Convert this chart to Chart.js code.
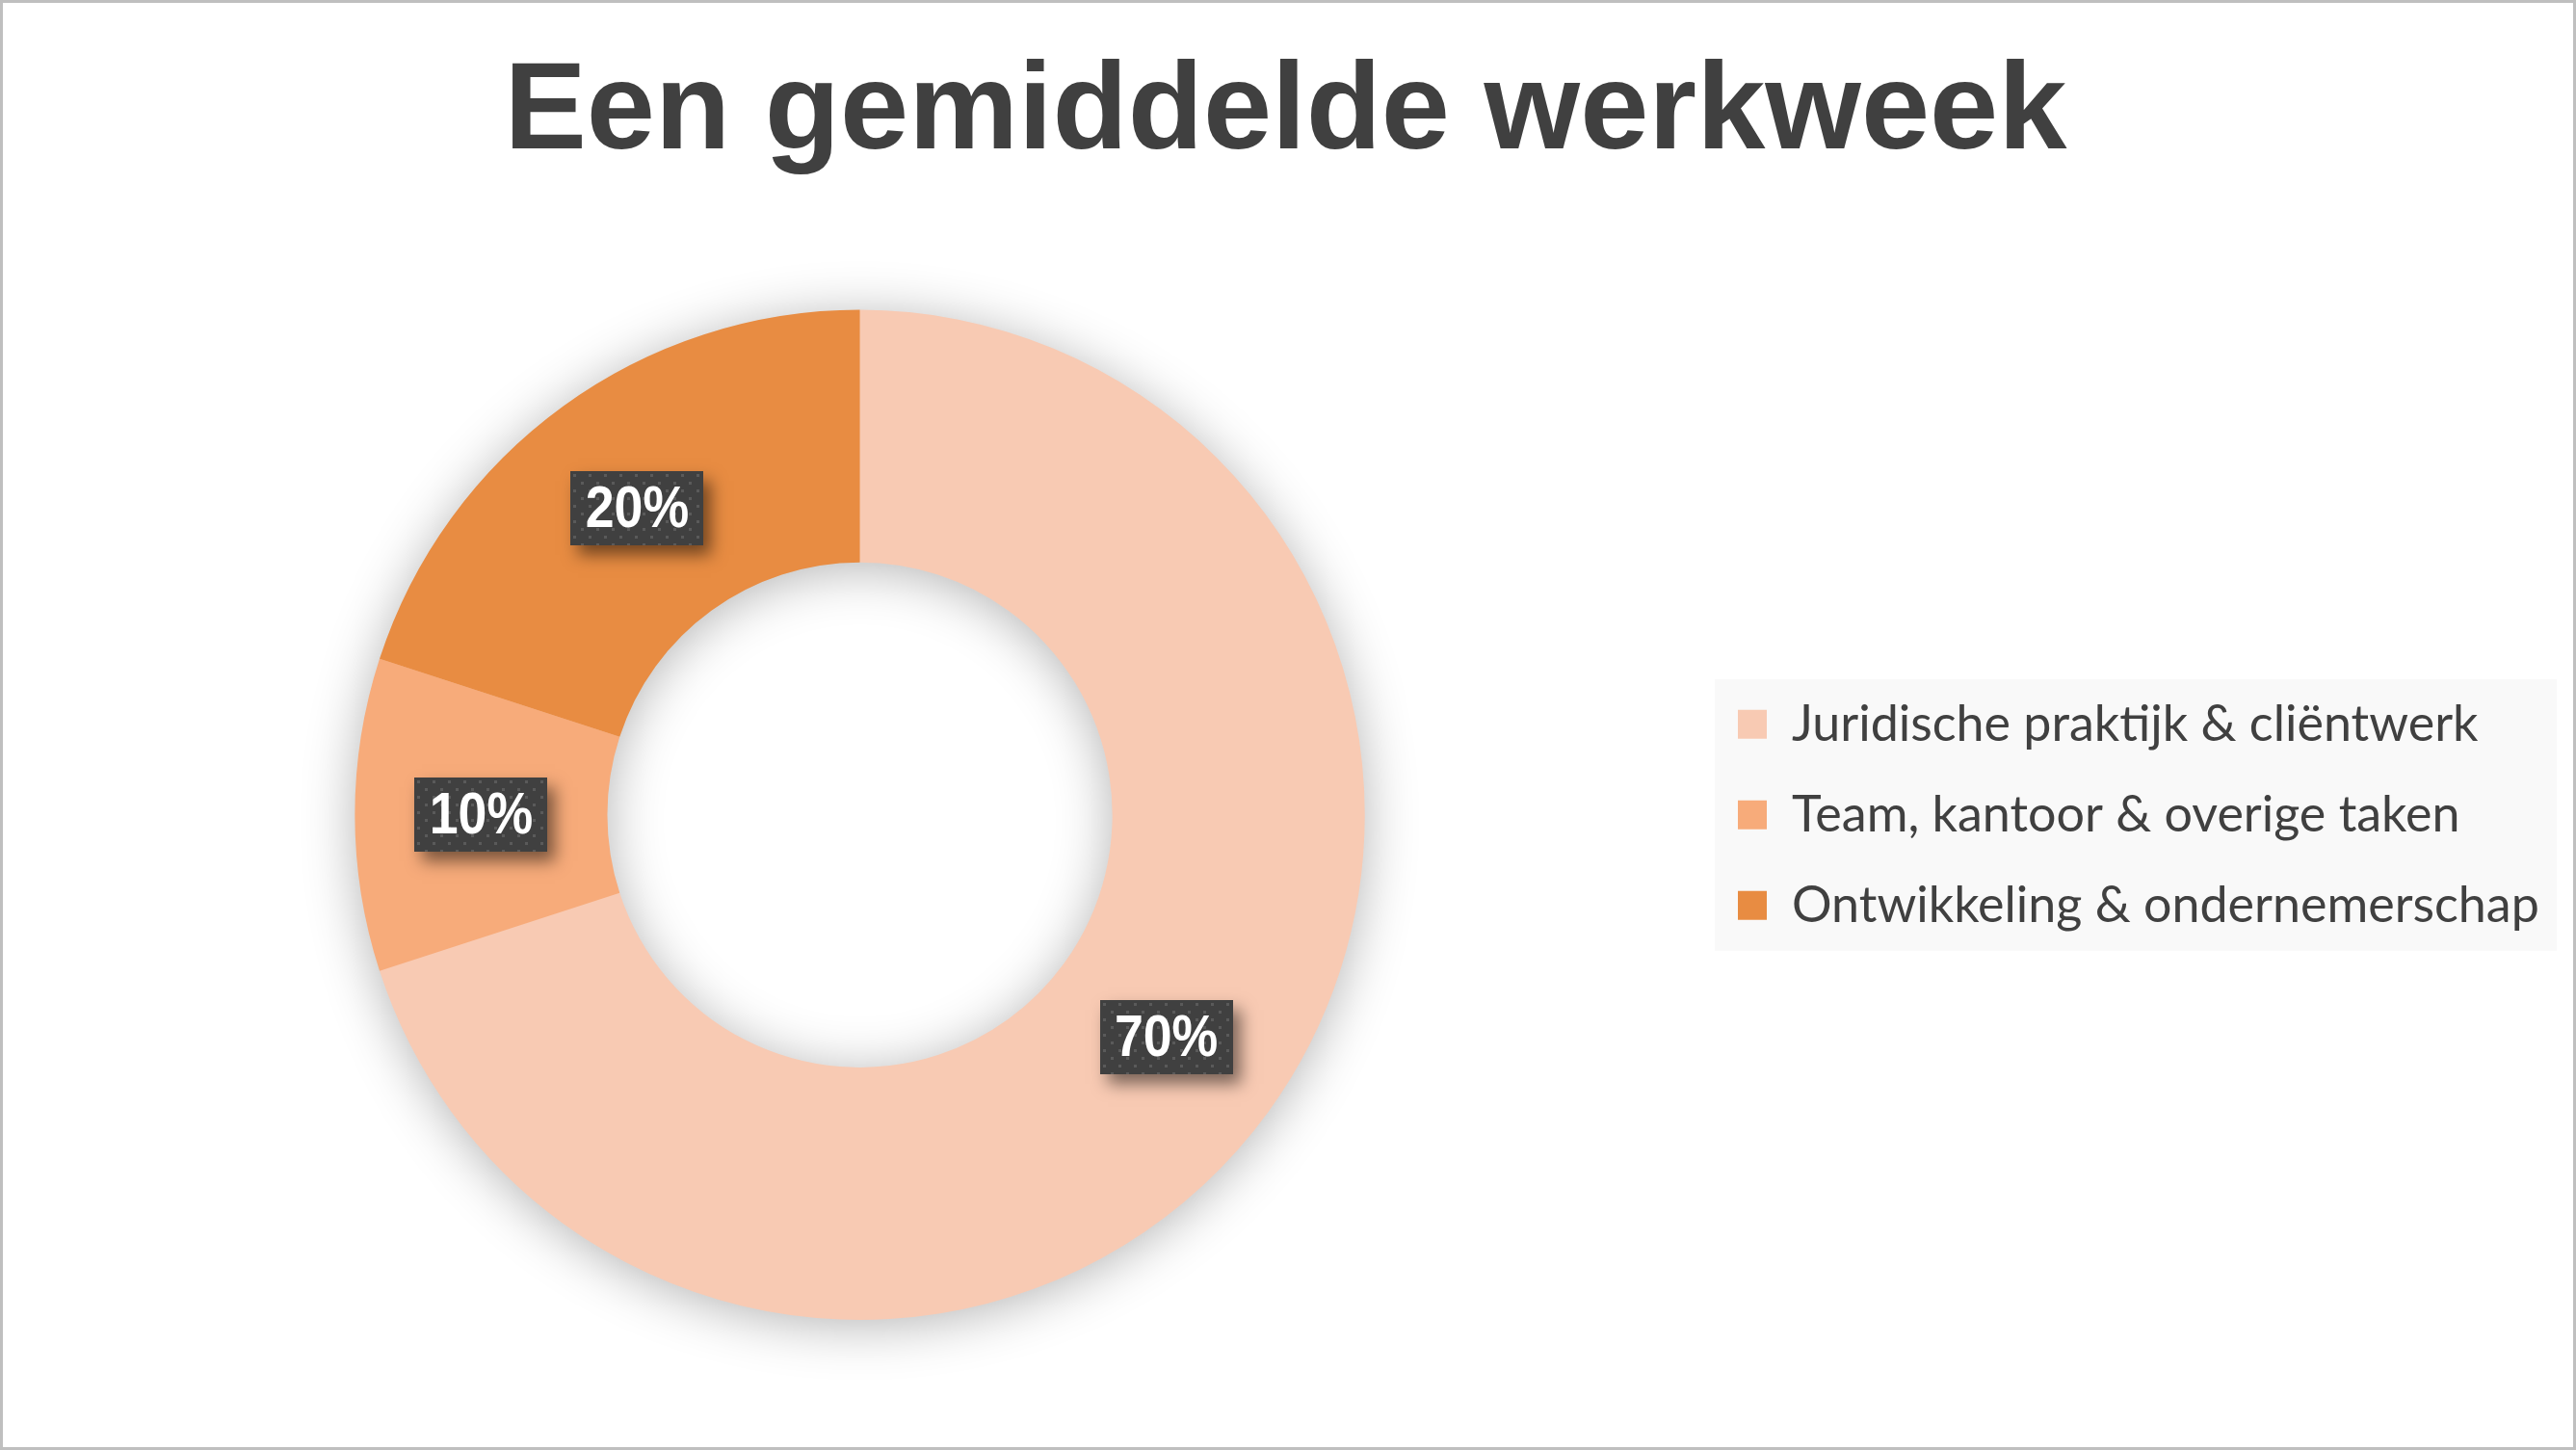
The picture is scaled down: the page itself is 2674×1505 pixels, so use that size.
<!DOCTYPE html>
<html>
<head>
<meta charset="utf-8">
<script src="https://cdn.jsdelivr.net/npm/chart.js@4.4.1/dist/chart.umd.min.js"></script>
<style>
  html, body { margin: 0; padding: 0; background: #ffffff; }
  #wrap { width: 2674px; height: 1505px; position: relative; }
  canvas { display: block; }
</style>
</head>
<body>
<div id="wrap"><canvas id="c" width="2674" height="1505"></canvas></div>
<script>
const categories = [
  'Juridische praktijk & cliëntwerk',
  'Team, kantoor & overige taken',
  'Ontwikkeling & ondernemerschap'
];
const shares = [70, 10, 20];
const sliceColors = ['#F8CAB3', '#F7AB7A', '#E88C42'];
const chartTitle = 'Een gemiddelde werkweek';

const W = 2674, H = 1505;
const legendFontSize = 52;
const legendFontFamily = 'Lato';
const legendPad = 42;
const legendBox = 30;
const legendLeftTarget = 1762;

const mctx = document.createElement('canvas').getContext('2d');
mctx.font = legendFontSize + 'px ' + legendFontFamily;
let maxText = 0;
categories.forEach(t => { maxText = Math.max(maxText, mctx.measureText(t).width); });
const legendWidth = legendPad + legendBox + legendFontSize / 2 + maxText + 10;
const padRight = Math.max(0, W - legendLeftTarget - legendWidth);
const padLeft = ((1780 - legendLeftTarget) + padRight) / 2;

function makePattern(ctx) {
  const p = document.createElement('canvas');
  p.width = 16; p.height = 16;
  const g = p.getContext('2d');
  g.fillStyle = '#404040';
  g.fillRect(0, 0, 16, 16);
  g.fillStyle = '#5a5a5a';
  g.fillRect(3, 3, 3, 3);
  g.fillRect(11, 11, 3, 3);
  return ctx.createPattern(p, 'repeat');
}

const ringShadow = {
  id: 'ringShadow',
  beforeDatasetsDraw(chart) {
    const meta = chart.getDatasetMeta(0);
    const a = meta.data[0];
    if (!a) return;
    const {x, y, outerRadius, innerRadius} = a.getProps(['x', 'y', 'outerRadius', 'innerRadius'], true);
    const ctx = chart.ctx;
    ctx.save();
    ctx.shadowColor = 'rgba(0,0,0,0.3)';
    ctx.shadowBlur = 55;
    ctx.shadowOffsetX = 0;
    ctx.shadowOffsetY = 6;
    ctx.fillStyle = sliceColors[0];
    ctx.beginPath();
    ctx.arc(x, y, outerRadius - 1, 0, Math.PI * 2, false);
    ctx.arc(x, y, innerRadius + 1, 0, Math.PI * 2, true);
    ctx.closePath();
    ctx.fill();
    ctx.restore();
  }
};

const sliceLabels = {
  id: 'sliceLabels',
  afterDatasetsDraw(chart) {
    const ctx = chart.ctx;
    const meta = chart.getDatasetMeta(0);
    const data = chart.data.datasets[0].data;
    const total = data.reduce((s, v) => s + v, 0);
    const pat = makePattern(ctx);
    meta.data.forEach((arc, i) => {
      const pt = arc.getCenterPoint(true);
      const bw = 138, bh = 77;
      const bx = Math.round(pt.x - bw / 2), by = Math.round(pt.y - bh / 2);
      ctx.save();
      ctx.shadowColor = 'rgba(0,0,0,0.5)';
      ctx.shadowBlur = 16;
      ctx.shadowOffsetX = 8;
      ctx.shadowOffsetY = 10;
      ctx.fillStyle = '#404040';
      ctx.fillRect(bx, by, bw, bh);
      ctx.restore();
      ctx.save();
      ctx.translate(bx, by);
      ctx.fillStyle = pat;
      ctx.fillRect(0, 0, bw, bh);
      ctx.restore();
      const txt = Math.round(data[i] / total * 100) + '%';
      ctx.save();
      ctx.translate(pt.x, pt.y + 2);
      ctx.scale(0.88, 1);
      ctx.font = 'bold 61px "Liberation Sans", Arial, sans-serif';
      ctx.fillStyle = '#ffffff';
      ctx.textAlign = 'center';
      ctx.textBaseline = 'middle';
      ctx.fillText(txt, 0, 0);
      ctx.restore();
    });
  }
};

const legendBg = {
  id: 'legendBg',
  beforeDraw(chart) {
    const lg = chart.legend;
    if (!lg) return;
    const n = categories.length;
    const itemH = Math.max(legendFontSize, legendBox);
    const colH = n * (itemH + legendPad);
    const y0 = (lg.top + legendPad + lg.bottom - colH) / 2;
    const boxTop = y0 + Math.max((legendFontSize - legendBox) / 2, 0);
    const x0 = lg.left + legendPad;
    const ctx = chart.ctx;
    ctx.save();
    ctx.fillStyle = '#F9F9F9';
    const left = x0 - 24;
    const top = boxTop - 32;
    const right = Math.min(x0 + legendBox + legendFontSize / 2 + maxText + 28, W - 20);
    const bottom = boxTop + (n - 1) * (itemH + legendPad) + legendBox + 32;
    ctx.fillRect(left, top, right - left, bottom - top);
    ctx.restore();
  },
  afterDraw(chart) {
    const ctx = chart.ctx;
    ctx.save();
    ctx.strokeStyle = '#BFBFBF';
    ctx.lineWidth = 3;
    ctx.strokeRect(1.5, 1.5, W - 3, H - 3);
    ctx.restore();
  }
};

new Chart(document.getElementById('c'), {
  type: 'doughnut',
  data: {
    labels: categories,
    datasets: [{
      data: shares,
      backgroundColor: sliceColors,
      borderWidth: 0,
      hoverOffset: 0
    }]
  },
  options: {
    responsive: false,
    devicePixelRatio: 1,
    animation: false,
    cutout: '50%',
    layout: { padding: { top: 0, bottom: 135, left: padLeft, right: padRight } },
    plugins: {
      title: {
        display: true,
        text: chartTitle,
        color: '#404040',
        font: { family: '"Liberation Sans", Arial, sans-serif', size: 128, weight: 'bold', lineHeight: 1.2 },
        padding: { top: 42, bottom: 126 }
      },
      legend: {
        display: true,
        position: 'right',
        align: 'center',
        fullSize: false,
        labels: {
          color: '#404040',
          font: { family: legendFontFamily, size: legendFontSize },
          boxWidth: legendBox,
          boxHeight: legendBox,
          padding: legendPad
        }
      },
      tooltip: { enabled: false }
    }
  },
  plugins: [ringShadow, sliceLabels, legendBg]
});
</script>
</body>
</html>
